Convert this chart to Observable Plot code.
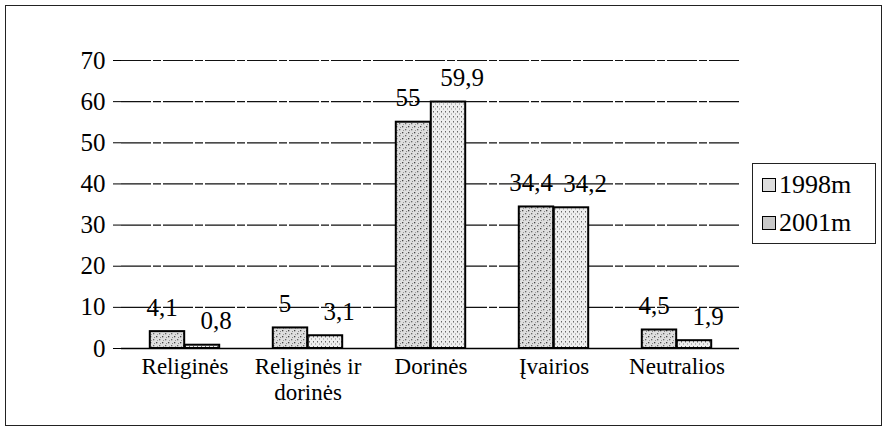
<!DOCTYPE html>
<html>
<head>
<meta charset="utf-8">
<script src="https://cdn.jsdelivr.net/npm/d3@7"></script>
<script src="https://cdn.jsdelivr.net/npm/@observablehq/plot@0.6"></script>
<style>
  html, body { margin: 0; padding: 0; background: #fff; }
  #wrap { position: relative; width: 889px; height: 433px; font-family: "Liberation Serif", "Times New Roman", serif; }
  #chart svg, #chart svg text { font-family: "Liberation Serif", "Times New Roman", serif !important; }
  #frame { position: absolute; left: 5px; top: 5px; width: 877px; height: 421px; border: 1.5px solid #222; box-sizing: border-box; pointer-events: none; }
  #legend { position: absolute; left: 752px; top: 163px; width: 124px; height: 81px; border: 1px solid #222; box-sizing: border-box; background: #fff; padding: 2px 0 0 9px; }
  .item { display: flex; align-items: center; font-size: 26px; line-height: 38px; color: #000; }
  .sw { width: 12px; height: 12px; border: 1.5px solid #000; margin-right: 3px; }
</style>
</head>
<body>
<div id="wrap"><div id="chart"></div><div id="frame"></div><div id="legend"></div></div>
<script>
const categories = ["Religinės", "Religinės ir\ndorinės", "Dorinės", "Įvairios", "Neutralios"];
const series = ["1998m", "2001m"];
const values1998 = [4.1, 5, 55, 34.4, 4.5];
const values2001 = [0.8, 3.1, 59.9, 34.2, 1.9];
const yTicks = [0, 10, 20, 30, 40, 50, 60, 70];

const d1998 = categories.map((c, i) => ({category: c, series: "1998m", value: values1998[i]}));
const d2001 = categories.map((c, i) => ({category: c, series: "2001m", value: values2001[i]}));
const fmt = v => String(v).replace(".", ",");

const fills = {"1998m": "url(#p1998)", "2001m": "url(#p2001)"};

const chart = Plot.plot({
  width: 889,
  height: 433,
  marginLeft: 121,
  marginRight: 150,
  marginTop: 60,
  marginBottom: 85,
  x: {domain: categories, padding: 0, label: null},
  y: {domain: [0, 70], ticks: yTicks, label: null},
  marks: [
    Plot.ruleY(yTicks.filter(d => d > 0), {stroke: "#111", strokeWidth: 1.2, strokeDasharray: "30,2,8,2"}),
    Plot.ruleX([categories[categories.length - 1]], {x: categories[categories.length - 1], dx: 61.8, stroke: "#555", strokeDasharray: "2,3"}),
    Plot.barY(d1998, {x: "category", y: "value", fill: fills["1998m"], stroke: "#000", strokeWidth: 2, insetLeft: 26.8, insetRight: 61.8}),
    Plot.barY(d2001, {x: "category", y: "value", fill: fills["2001m"], stroke: "#000", strokeWidth: 2, insetLeft: 61.8, insetRight: 26.8}),
    Plot.text(d1998, {x: "category", y: "value", text: d => fmt(d.value), dx: -23, dy: -24, fontSize: 25, fill: "#000", className: "vlab"}),
    Plot.text(d2001, {x: "category", y: "value", text: d => fmt(d.value), dx: 31, dy: -24, fontSize: 25, fill: "#000", className: "vlab"}),
    Plot.ruleY([0], {stroke: "#000", strokeWidth: 1.5}),
    Plot.ruleX([categories[0]], {x: categories[0], dx: -61.8, stroke: "#000", strokeWidth: 1.5}),
    Plot.ruleX([categories[0]], {x: categories[0], dx: 61.8, y1: 0, y2: -2, stroke: "#000", strokeWidth: 1.5}),
    Plot.axisY({ticks: yTicks, tickSize: 8, tickPadding: 8, anchor: "left", fontSize: 25, className: "yax"}),
    Plot.axisX({tickSize: 0, tickPadding: 8, fontSize: 23, lineHeight: 1.1, className: "xax"})
  ]
});
document.getElementById("chart").appendChild(chart);

const svg = d3.select(chart);
svg.selectAll("text").style("font-family", "'Liberation Serif', 'Times New Roman', serif");
svg.selectAll(".yax text").style("font-size", "25px");
svg.selectAll(".xax text").style("font-size", "23px");
svg.selectAll(".vlab text").style("font-size", "25px");

// patterns
const defs = svg.insert("defs", ":first-child");
const p1 = defs.append("pattern").attr("id", "p1998").attr("patternUnits", "userSpaceOnUse").attr("width", 6).attr("height", 6);
p1.append("rect").attr("width", 6).attr("height", 6).attr("fill", "#dedede");
p1.append("rect").attr("x", 0).attr("y", 0).attr("width", 1.3).attr("height", 1.3).attr("fill", "#444");
p1.append("rect").attr("x", 3).attr("y", 3).attr("width", 1.3).attr("height", 1.3).attr("fill", "#666");
p1.append("rect").attr("x", 4).attr("y", 1).attr("width", 1).attr("height", 1).attr("fill", "#888");
p1.append("rect").attr("x", 1).attr("y", 4).attr("width", 1).attr("height", 1).attr("fill", "#999");
const p2 = defs.append("pattern").attr("id", "p2001").attr("patternUnits", "userSpaceOnUse").attr("width", 4).attr("height", 5);
p2.append("rect").attr("width", 4).attr("height", 5).attr("fill", "#eeeeee");
p2.append("rect").attr("x", 1).attr("y", 1).attr("width", 1).attr("height", 1.5).attr("fill", "#666");
p2.append("rect").attr("x", 3).attr("y", 3.5).attr("width", 1).attr("height", 1).attr("fill", "#888");

// legend
const legend = d3.select("#legend");
series.forEach(s => {
  const it = legend.append("div").attr("class", "item");
  it.append("div").attr("class", "sw").style("background", s === "1998m" ? "#ddd" : "#c8c8c8");
  it.append("span").text(s);
});
</script>
</body>
</html>
